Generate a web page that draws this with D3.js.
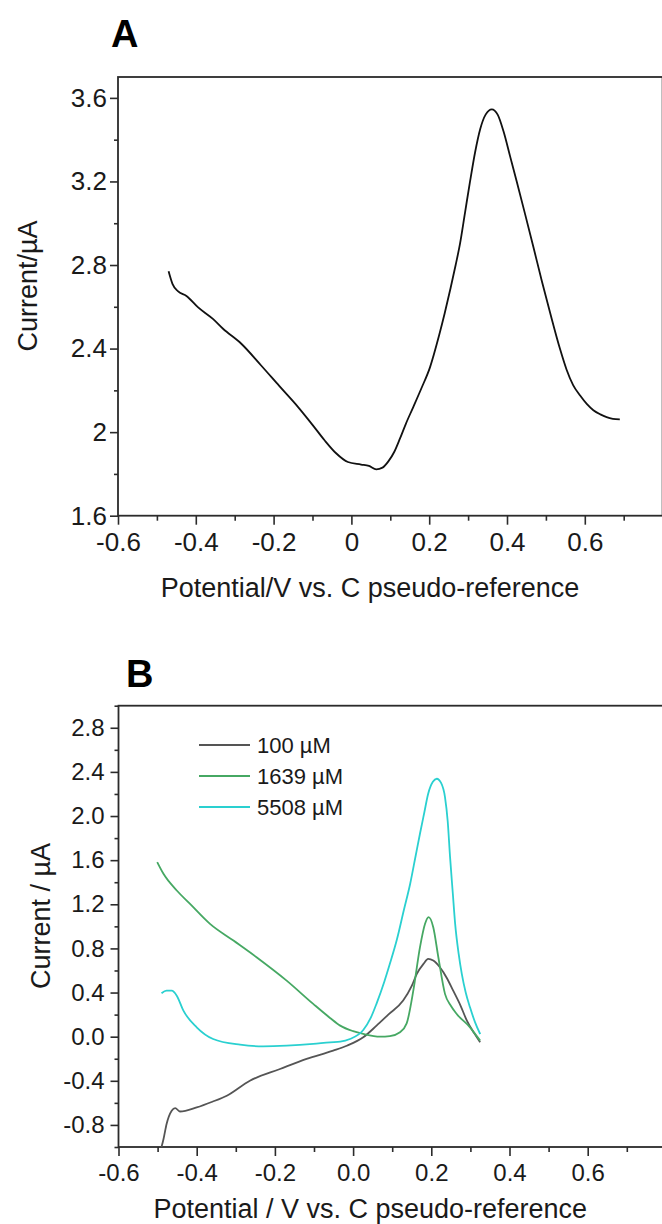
<!DOCTYPE html>
<head>
<meta charset="UTF-8">
<script src="https://d3js.org/d3.v7.min.js"></script>
<style>
body { margin: 0; background: #fff; }
text { font-family: "Liberation Sans", Arial, sans-serif; fill: #1a1a1a; }
</style>
</head>
<body>
<div id="my_dataviz"></div>
<script>

// ---- panel A : single voltammogram
var aPotential = [-0.470, -0.460, -0.446, -0.424, -0.394, -0.356, -0.330, -0.283, -0.232, -0.185,
  -0.137, -0.100, -0.069, -0.040, -0.009, 0.025, 0.045, 0.064, 0.080, 0.095,
  0.110, 0.125, 0.140, 0.159, 0.180, 0.202, 0.225, 0.240, 0.255, 0.268,
  0.279, 0.292, 0.305, 0.318, 0.331, 0.345, 0.361, 0.376, 0.391, 0.408,
  0.425, 0.447, 0.468, 0.490, 0.511, 0.536, 0.553, 0.570, 0.588, 0.605,
  0.622, 0.640, 0.656, 0.672, 0.690];
var aCurrent = [2.77, 2.71, 2.675, 2.652, 2.597, 2.542, 2.495, 2.423, 2.319, 2.22,
  2.120, 2.035, 1.961, 1.90, 1.857, 1.845, 1.838, 1.822, 1.830, 1.86,
  1.905, 1.97, 2.04, 2.12, 2.21, 2.31, 2.46, 2.57, 2.69, 2.80,
  2.90, 3.05, 3.20, 3.34, 3.45, 3.52, 3.545, 3.52, 3.44, 3.32,
  3.20, 3.04, 2.885, 2.72, 2.57, 2.40, 2.30, 2.225, 2.175, 2.135,
  2.105, 2.085, 2.072, 2.064, 2.061];

var aXTicks = [-0.6, -0.4, -0.2, 0, 0.2, 0.4, 0.6];
var aXLabels = ["-0.6", "-0.4", "-0.2", "0", "0.2", "0.4", "0.6"];
var aXMinor = [-0.5, -0.3, -0.1, 0.1, 0.3, 0.5, 0.7];
var aYTicks = [1.6, 2.0, 2.4, 2.8, 3.2, 3.6];
var aYLabels = ["1.6", "2", "2.4", "2.8", "3.2", "3.6"];
var aYMinor = [1.8, 2.2, 2.6, 3.0, 3.4];

// ---- panel B : three concentrations
var bNames = ["100 µM", "1639 µM", "5508 µM"];
var bColors = ["#555555", "#46a863", "#2ad0d0"];

var b100Potential = [-0.494, -0.485, -0.477, -0.464, -0.455, -0.443, -0.400, -0.360, -0.323, -0.264,
  -0.187, -0.119, -0.051, -0.016, 0.026, 0.060, 0.090, 0.128, 0.150, 0.163,
  0.180, 0.192, 0.205, 0.222, 0.240, 0.256, 0.275, 0.291, 0.310, 0.325];
var b100Current = [-1.05, -0.93, -0.792, -0.672, -0.647, -0.678, -0.641, -0.59, -0.535, -0.399,
  -0.293, -0.202, -0.127, -0.082, -0.006, 0.10, 0.20, 0.327, 0.46, 0.569,
  0.66, 0.705, 0.69, 0.629, 0.53, 0.417, 0.28, 0.145, 0.03, -0.051];

var b1639Potential = [-0.501, -0.485, -0.451, -0.417, -0.366, -0.306, -0.247, -0.170, -0.102, -0.059,
  -0.033, 0.000, 0.026, 0.069, 0.094, 0.120, 0.137, 0.154, 0.171, 0.184,
  0.193, 0.205, 0.218, 0.235, 0.250, 0.265, 0.299, 0.325];
var b1639Current = [1.582, 1.476, 1.325, 1.204, 1.023, 0.871, 0.720, 0.508, 0.297, 0.17,
  0.10, 0.05, 0.025, 0.0, 0.005, 0.04, 0.12, 0.417, 0.810, 1.023,
  1.083, 0.992, 0.720, 0.388, 0.28, 0.206, 0.085, -0.036];

var b5508Potential = [-0.490, -0.477, -0.464, -0.451, -0.434, -0.400, -0.358, -0.289, -0.230, -0.170,
  -0.102, -0.059, -0.033, -0.008, 0.026, 0.045, 0.060, 0.080, 0.094, 0.112,
  0.130, 0.146, 0.160, 0.171, 0.182, 0.192, 0.204, 0.214, 0.225, 0.235,
  0.242, 0.248, 0.255, 0.261, 0.270, 0.278, 0.288, 0.299, 0.312, 0.325];
var b5508Current = [0.393, 0.417, 0.417, 0.372, 0.236, 0.085, -0.021, -0.073, -0.088, -0.082,
  -0.066, -0.051, -0.045, -0.021, 0.06, 0.17, 0.30, 0.50, 0.66, 0.88,
  1.15, 1.386, 1.64, 1.839, 2.03, 2.202, 2.31, 2.338, 2.30, 2.172,
  1.95, 1.627, 1.30, 1.023, 0.75, 0.569, 0.40, 0.266, 0.13, 0.024];

var bXTicks = [-0.6, -0.4, -0.2, 0, 0.2, 0.4, 0.6];
var bXLabels = ["-0.6", "-0.4", "-0.2", "0.0", "0.2", "0.4", "0.6"];
var bXMinor = [-0.5, -0.3, -0.1, 0.1, 0.3, 0.5, 0.7];
var bYTicks = [-0.8, -0.4, 0, 0.4, 0.8, 1.2, 1.6, 2.0, 2.4, 2.8];
var bYLabels = ["-0.8", "-0.4", "0.0", "0.4", "0.8", "1.2", "1.6", "2.0", "2.4", "2.8"];
var bYMinor = [-1.0, -0.6, -0.2, 0.2, 0.6, 1.0, 1.4, 1.8, 2.2, 2.6, 3.0];

var width = 662, height = 1224;
var axisColor = "#2b2b2b";

var svg = d3.select("#my_dataviz")
  .append("svg")
    .attr("width", width)
    .attr("height", height);

// one framed panel with major + minor ticks
function drawPanel(g, x, y, o) {
  var xr = x.range(), yr = y.range();

  g.append("g")
    .attr("transform", "translate(0," + yr[0] + ")")
    .call(d3.axisBottom(x).tickValues(o.xTicks).tickFormat(function(d, i) { return o.xLabels[i]; })
      .tickSize(9).tickSizeOuter(0).tickPadding(o.xPad));
  g.append("g")
    .attr("transform", "translate(0," + yr[0] + ")")
    .call(d3.axisBottom(x).tickValues(o.xMinor).tickFormat("").tickSize(5).tickSizeOuter(0));

  g.append("g")
    .attr("transform", "translate(" + xr[0] + ",0)")
    .call(d3.axisLeft(y).tickValues(o.yTicks).tickFormat(function(d, i) { return o.yLabels[i]; })
      .tickSize(8).tickSizeOuter(0).tickPadding(o.yPad));
  g.append("g")
    .attr("transform", "translate(" + xr[0] + ",0)")
    .call(d3.axisLeft(y).tickValues(o.yMinor).tickFormat("").tickSize(4).tickSizeOuter(0));

  g.selectAll(".domain").remove();
  g.selectAll(".tick line").attr("stroke", axisColor).attr("stroke-width", 1.6);
  g.selectAll(".tick text")
    .attr("fill", "#1a1a1a")
    .style("font-family", '"Liberation Sans", Arial, sans-serif')
    .style("font-size", o.tickFont + "px");

  // frame
  g.append("rect")
    .attr("x", xr[0]).attr("y", yr[1])
    .attr("width", xr[1] - xr[0]).attr("height", yr[0] - yr[1])
    .attr("fill", "none")
    .attr("stroke", axisColor)
    .attr("stroke-width", 1.8);

  g.append("text")
    .attr("x", (xr[0] + 622) / 2)
    .attr("y", o.xTitleY)
    .attr("text-anchor", "middle")
    .style("font-size", "27px")
    .text(o.xTitle);

  g.append("text")
    .attr("transform", "translate(" + o.yTitleX + "," + o.yTitleMid + ") rotate(-90)")
    .attr("text-anchor", "middle")
    .style("font-size", "27px")
    .text(o.yTitle);

  g.append("text")
    .attr("x", o.labelX)
    .attr("y", o.labelY)
    .style("font-size", "38px")
    .style("font-weight", "bold")
    .style("fill", "#000")
    .text(o.label);
}

// ---- A
var ax = d3.scaleLinear().domain([-0.6, 0.8]).range([118, 662.6]);
var ay = d3.scaleLinear().domain([1.6, 3.7]).range([515.7, 77]);
var gA = svg.append("g");
drawPanel(gA, ax, ay, {
  xTicks: aXTicks, xLabels: aXLabels, xMinor: aXMinor,
  yTicks: aYTicks, yLabels: aYLabels, yMinor: aYMinor,
  xPad: 8, yPad: 3, tickFont: 26,
  xTitle: "Potential/V vs. C pseudo-reference", xTitleY: 597,
  yTitle: "Current/µA", yTitleX: 37, yTitleMid: 286,
  label: "A", labelX: 111, labelY: 47
});

var lineA = d3.line()
  .x(function(d) { return ax(d[0]); })
  .y(function(d) { return ay(d[1]); })
  .curve(d3.curveMonotoneX);
gA.append("path")
  .datum(d3.zip(aPotential, aCurrent))
  .attr("fill", "none")
  .attr("stroke", "#111")
  .attr("stroke-width", 1.8)
  .attr("d", lineA);

// ---- B
var bx = d3.scaleLinear().domain([-0.6, 0.8]).range([118.5, 665.9]);
var by = d3.scaleLinear().domain([-1, 3]).range([1147, 705.7]);
var gB = svg.append("g");
drawPanel(gB, bx, by, {
  xTicks: bXTicks, xLabels: bXLabels, xMinor: bXMinor,
  yTicks: bYTicks, yLabels: bYLabels, yMinor: bYMinor,
  xPad: 8, yPad: 6, tickFont: 24,
  xTitle: "Potential / V vs. C pseudo-reference", xTitleY: 1218,
  yTitle: "Current / µA", yTitleX: 50, yTitleMid: 916,
  label: "B", labelX: 126, labelY: 687
});

svg.append("clipPath").attr("id", "clipB")
  .append("rect")
    .attr("x", 118.5).attr("y", 705.7)
    .attr("width", 665.9 - 118.5).attr("height", 1147 - 705.7);

var lineB = d3.line()
  .x(function(d) { return bx(d[0]); })
  .y(function(d) { return by(d[1]); })
  .curve(d3.curveMonotoneX);

var bSeries = [
  d3.zip(b100Potential, b100Current),
  d3.zip(b1639Potential, b1639Current),
  d3.zip(b5508Potential, b5508Current)
];

gB.append("g").attr("clip-path", "url(#clipB)")
  .selectAll("path")
  .data(bSeries)
  .enter()
  .append("path")
    .attr("fill", "none")
    .attr("stroke", function(d, i) { return bColors[i]; })
    .attr("stroke-width", 1.8)
    .attr("d", lineB);

// legend
var legY = d3.scalePoint().domain(bNames).range([745, 807]);
var leg = gB.append("g");
leg.selectAll("line")
  .data(bNames)
  .enter()
  .append("line")
    .attr("x1", 199).attr("x2", 250)
    .attr("y1", function(d) { return legY(d); })
    .attr("y2", function(d) { return legY(d); })
    .attr("stroke", function(d, i) { return bColors[i]; })
    .attr("stroke-width", 1.8);
leg.selectAll("text")
  .data(bNames)
  .enter()
  .append("text")
    .attr("x", 257)
    .attr("y", function(d) { return legY(d); })
    .attr("dy", "0.35em")
    .style("font-size", "22px")
    .text(function(d) { return d; });

</script>
</body>
